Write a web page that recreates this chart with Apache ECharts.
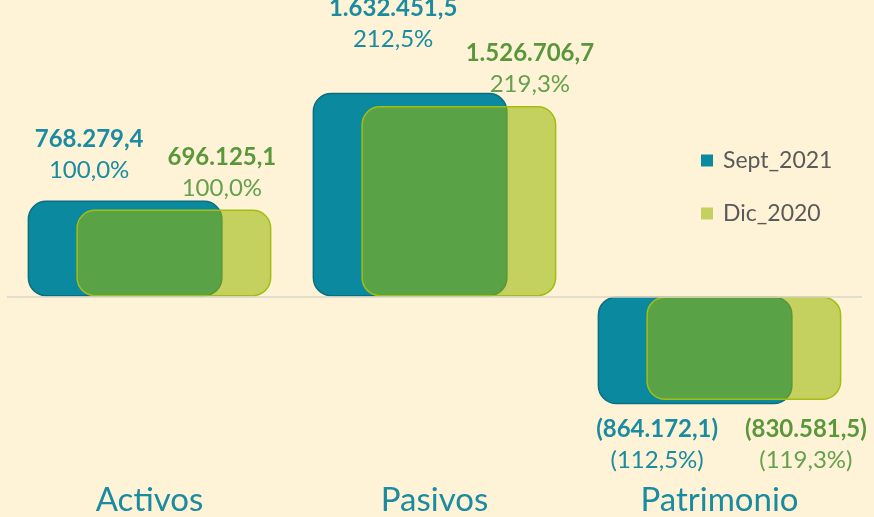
<!DOCTYPE html>
<html><head><meta charset="utf-8">
<script src="https://cdn.jsdelivr.net/npm/echarts@6/dist/echarts.min.js"></script>
<style>html,body{margin:0;padding:0;background:#FEF3D7}#c{width:874px;height:517px}</style>
</head><body><div id="c"></div>
<script>
var categories = ['Activos', 'Pasivos', 'Patrimonio'];
var sept2021 = [768279.4, 1632451.5, -864172.1];
var dic2020 = [696125.1, 1526706.7, -830581.5];
var septPct = [100.0, 212.5, -112.5];
var dicPct = [100.0, 219.3, -119.3];
var seriesNames = ['Sept_2021', 'Dic_2020'];

function fmtNum(v, dec) {
  var a = Math.abs(v).toFixed(dec).split('.');
  var i = a[0].replace(/\B(?=(\d{3})+(?!\d))/g, '.');
  var s = i + (a[1] ? ',' + a[1] : '');
  return v < 0 ? '(' + s : s;
}
function fmtVal(v) { return v < 0 ? fmtNum(v, 1) + ')' : fmtNum(v, 1); }
function fmtPct(v) { return v < 0 ? fmtNum(v, 1) + '%)' : fmtNum(v, 1) + '%'; }

var septOffsets = [[-36, -10], [-17, -33], [-38, 5]];
var dicOffsets = [[48, -1], [71, -1], [62, 9]];

function buildData(vals, pcts, offs) {
  return vals.map(function (v, i) {
    return {
      value: v,
      pct: pcts[i],
      label: { position: v < 0 ? 'bottom' : 'top', offset: offs[i] }
    };
  });
}

var chart = echarts.init(document.getElementById('c'));
chart.setOption({
  backgroundColor: '#FEF3D7',
  animation: false,
  textStyle: { fontFamily: 'Lato' },
  grid: { left: 7, right: 12, top: 0, bottom: 37 },
  legend: {
    orient: 'vertical', left: 696, top: 144, itemGap: 30,
    itemWidth: 12, itemHeight: 12, icon: 'rect',
    itemStyle: { borderWidth: 0 },
    textStyle: { fontSize: 23, color: '#5A5A5A', fontFamily: 'Lato', padding: [0, 0, 0, 5] },
    data: seriesNames
  },
  xAxis: {
    type: 'category', data: categories,
    axisLine: { show: false, onZero: false }, axisTick: { show: false },
    axisLabel: { fontSize: 33, color: '#1A8BA0', margin: 5, fontFamily: 'Lato' }
  },
  yAxis: {
    type: 'value', min: -1464000, max: 2376000, show: false,
    splitLine: { show: false }
  },
  series: [
    {
      name: seriesNames[0], type: 'bar', barWidth: 195, barGap: '-75%',
      data: buildData(sept2021, septPct, septOffsets),
      itemStyle: { color: '#0B8A9F', borderColor: '#0A6E80', borderWidth: 1.5, borderRadius: 18 },
      label: {
        show: true, distance: 5, align: 'center',
        formatter: function (p) { return '{v|' + fmtVal(p.value) + '}\n{p|' + fmtPct(p.data.pct) + '}'; },
        rich: {
          v: { fontSize: 24, fontWeight: 'bold', color: '#1A8BA0', lineHeight: 31, fontFamily: 'Lato' },
          p: { fontSize: 24, color: '#1A8BA0', lineHeight: 31, fontFamily: 'Lato' }
        }
      },
      markLine: {
        silent: true, symbol: 'none', label: { show: false },
        lineStyle: { color: '#D9D6CC', width: 1.5, type: 'solid' },
        data: [{ yAxis: 0 }]
      },
      z: 2
    },
    {
      name: seriesNames[1], type: 'bar', barWidth: 195, barGap: '-75%',
      data: buildData(dic2020, dicPct, dicOffsets),
      itemStyle: { color: 'rgba(151,181,0,0.56)', borderColor: '#A3BE12', borderWidth: 1.5, borderRadius: 18 },
      label: {
        show: true, distance: 5, align: 'center',
        formatter: function (p) { return '{v|' + fmtVal(p.value) + '}\n{p|' + fmtPct(p.data.pct) + '}'; },
        rich: {
          v: { fontSize: 24, fontWeight: 'bold', color: '#5A963A', lineHeight: 31, fontFamily: 'Lato' },
          p: { fontSize: 24, color: '#66A04C', lineHeight: 31, fontFamily: 'Lato' }
        }
      },
      z: 3
    }
  ]
});
</script></body></html>
